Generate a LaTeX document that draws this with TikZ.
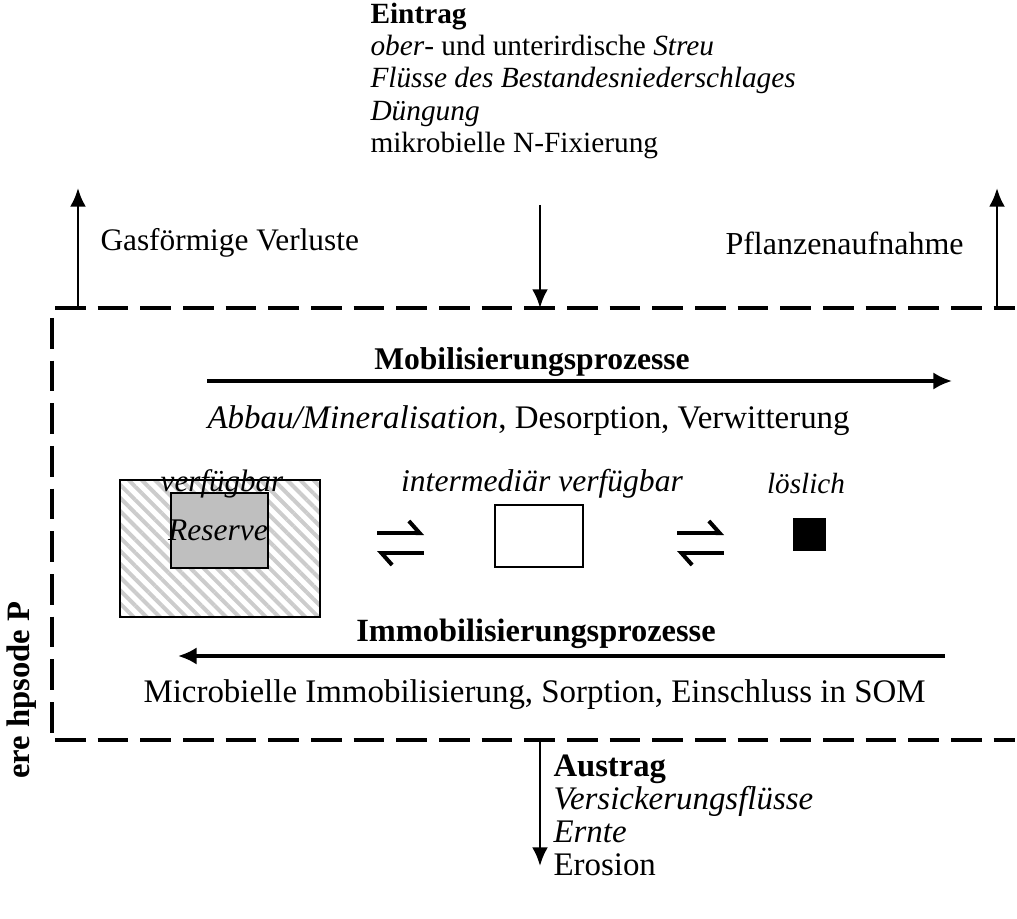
\documentclass[tikz,border=0pt]{standalone}
\usepackage{fontspec}
\setmainfont{Liberation Serif}
\usetikzlibrary{arrows.meta,patterns.meta}

\tikzset{every picture/.style={line width=0.75pt}}

\begin{document}
\begin{tikzpicture}[x=0.75pt,y=0.75pt,yscale=-1,xscale=1,
	txt/.style={font=\fontsize{#1}{#1}\selectfont,inner sep=0pt},
	txt/.default=24,
	flow/.style={line width=2.2pt,-{Latex[length=14pt,width=12pt]}},
	process/.style={line width=2.6pt,-{Latex[length=14pt,width=13pt]}},
	bound/.style={line width=3pt,dash pattern=on 23pt off 9pt},
	equi/.style={line width=3pt,-{Straight Barb[harpoon,length=8pt,width=18pt]}}]
	\useasboundingbox (0,0) rectangle (1017,919);

	%Dashed boundary of the soil compartment
	\draw [bound] (55,308) -- (1015,308) ;
	\draw [bound] (52,318) -- (52,740) ;
	\draw [bound] (55,740) -- (1015,740) ;

	% Text Node
	\node [txt=22,anchor=base west] (ein1) at (370,24) {\bfseries Eintrag};
	\node [txt=22,anchor=base west] (ein2) at (370,56) {\textit{ober}- und unterirdische \textit{Streu}};
	\node [txt=22,anchor=base west] (ein3) at (370,88) {\textit{Flüsse des Bestandesniederschlages}};
	\node [txt=22,anchor=base west] (ein4) at (370,121) {\textit{Düngung}};
	\node [txt=22,anchor=base west] (ein5) at (370,153) {mikrobielle N-Fixierung};
	% Text Node
	\node [txt=23.5,anchor=west] (gas) at (100,243) {Gasförmige Verluste};
	% Text Node
	\node [txt=24,anchor=west] (pflanze) at (725,243) {Pflanzenaufnahme};

	%Flux arrows across the boundary
	\coordinate (gasA) at (78,308) ;
	\coordinate (gasB) at (78,188) ;
	\coordinate (pflA) at (997,308) ;
	\coordinate (pflB) at (997,188) ;
	\coordinate (einA) at (540,205) ;
	\coordinate (einB) at (540,308) ;
	\coordinate (ausA) at (540,740) ;
	\coordinate (ausB) at (540,866) ;
	\draw [flow] (gasA) -- (gasB) ;
	\draw [flow] (pflA) -- (pflB) ;
	\draw [flow] (einA) -- (einB) ;
	\draw [flow] (ausA) -- (ausB) ;

	% Text Node
	\node [txt=23.7] (mobil) at (532,362) {\bfseries Mobilisierungsprozesse};
	\coordinate (mobA) at (207,381) ;
	\coordinate (mobB) at (952,381) ;
	\draw [process] (mobA) -- (mobB) ;
	% Text Node
	\node [txt=24.7,anchor=west] (mobtxt) at (207,421) {\textit{Abbau/Mineralisation}, Desorption, Verwitterung};

	%Shape: Rectangle (verfuegbar, hatched)
	\draw [line width=1.5pt,pattern={Lines[angle=-45,distance=7pt,line width=3pt]},pattern color=gray!40] (120,480) rectangle (320,617) ;
	%Shape: Rectangle (Reserve)
	\draw [line width=1.5pt,fill=gray!50] (171,493) rectangle (268,568) ;
	% Text Node
	\node [txt=23.3] (verf) at (222,484) {\itshape verfügbar};
	% Text Node
	\node [txt=23.6] (reserve) at (218,530) {\itshape Reserve};

	%Equilibrium arrows
	\coordinate (eqAl) at (377,533) ;
	\coordinate (eqAr) at (424,533) ;
	\coordinate (eqBl) at (377,553) ;
	\coordinate (eqBr) at (424,553) ;
	\draw [equi] (eqAl) -- (eqAr) ;
	\draw [equi] (eqBr) -- (eqBl) ;

	% Text Node
	\node [txt=23.7] (inter) at (542,484) {\itshape intermediär verfügbar};
	%Shape: Rectangle (intermediaer)
	\draw [line width=1.2pt] (495,505) rectangle (583,567) ;

	\coordinate (eqCl) at (677,533) ;
	\coordinate (eqCr) at (724,533) ;
	\coordinate (eqDl) at (677,553) ;
	\coordinate (eqDr) at (724,553) ;
	\draw [equi] (eqCl) -- (eqCr) ;
	\draw [equi] (eqDr) -- (eqDl) ;

	% Text Node
	\node [txt=21.9] (loes) at (806,484) {\itshape löslich};
	%Shape: Square (loeslich)
	\draw [fill=black] (793,518) rectangle (825,550) ;

	% Text Node
	\node [txt=24.3] (immob) at (536,634) {\bfseries Immobilisierungsprozesse};
	\coordinate (immA) at (945,656) ;
	\coordinate (immB) at (178,656) ;
	\draw [process] (immA) -- (immB) ;
	% Text Node
	\node [txt=24.7,anchor=west] (immtxt) at (143,695) {Microbielle Immobilisierung, Sorption, Einschluss in SOM};

	% Text Node
	\node [txt=24.5,rotate=90] (side) at (22,690) {\bfseries ere hpsode P};

	% Text Node
	\node [txt=24.5,anchor=base west] (aus1) at (553,776) {\bfseries Austrag};
	\node [txt=24.7,anchor=base west] (aus2) at (553,809) {\itshape Versickerungsflüsse};
	\node [txt=24.7,anchor=base west] (aus3) at (553,842) {\itshape Ernte};
	\node [txt=24.7,anchor=base west] (aus4) at (553,875) {Erosion};

\end{tikzpicture}
\end{document}
